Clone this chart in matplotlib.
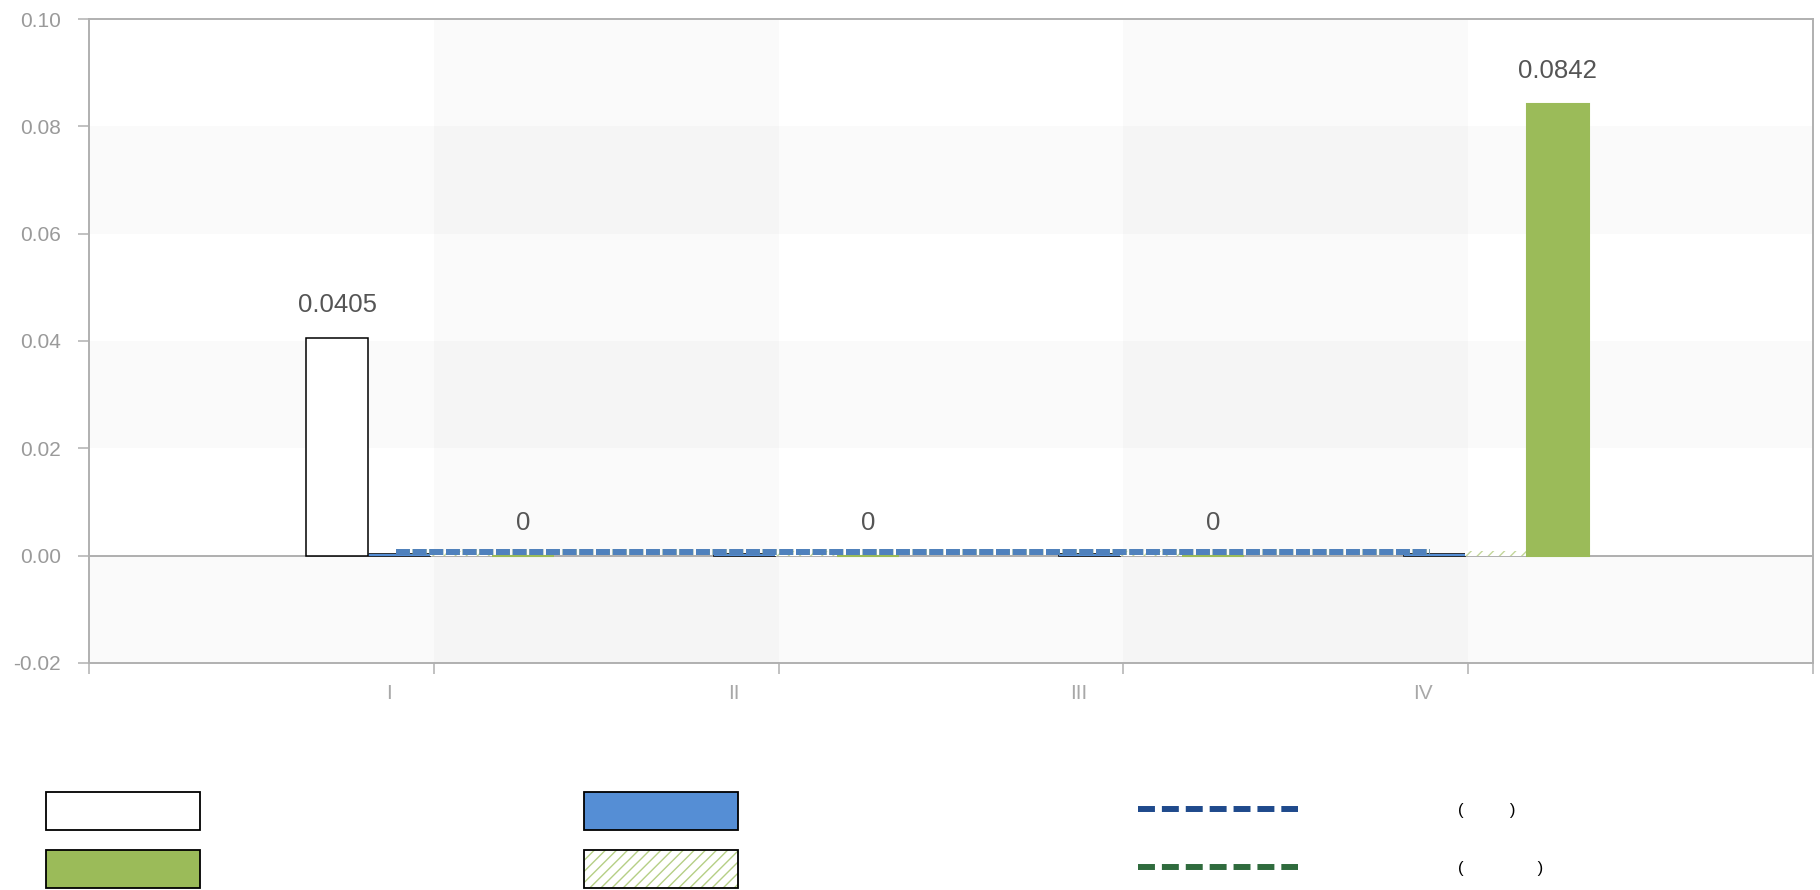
import matplotlib
matplotlib.use("Agg")
import matplotlib.pyplot as plt
import numpy as np
from matplotlib.patches import Patch
from matplotlib.lines import Line2D

plt.rcParams['font.family'] = ['Liberation Sans', 'DejaVu Sans']
plt.rcParams['lines.scale_dashes'] = False
plt.rcParams['hatch.linewidth'] = 1.0

categories = ['I', 'II', 'III', 'IV']
white_vals = [0.0405, 0, 0, 0]
blue_vals = [0.0005, 0.0005, 0.0005, 0.0005]
hatch_vals = [0.0008, 0.0008, 0.0008, 0.0008]
green_vals = [0, 0, 0, 0.0842]
line_blue = [0.00075, 0.00075, 0.00075, 0.00075]
line_green = [0.00075, 0.00075, 0.00075, 0.00075]
line_labels = ['(          )', '(                )']

W, H = 1820, 890
fig = plt.figure(figsize=(W / 100, H / 100), dpi=100)
ax = fig.add_axes([89 / W, 1 - 663 / H, (1813 - 89) / W, (663 - 19) / H])

# alternating shading, rows and columns
for y0 in (-0.02, 0.02, 0.06):
    ax.axhspan(y0, y0 + 0.02, color='k', alpha=0.02, lw=0, zorder=0)
for x0 in (1, 3):
    ax.axvspan(x0, x0 + 1, color='k', alpha=0.02, lw=0, zorder=0)
ax.axhline(0, color='#9a9a9a', lw=1.1, zorder=1.5)

centers = np.arange(len(categories)) + 1.0
bw = 0.18
b_white = ax.bar(centers - 0.28, white_vals, bw, color='white', edgecolor='black',
                 lw=[1.1 if v else 0 for v in white_vals], zorder=2)
b_blue = ax.bar(centers - 0.10, blue_vals, bw, color='#558ed5', edgecolor='#1a1a1a', lw=0.6, zorder=2)
b_hatch = ax.bar(centers + 0.08, hatch_vals, bw, color='white', edgecolor='#c3d69b', hatch='///', lw=0, zorder=2)
b_green = ax.bar(centers + 0.26, green_vals, bw, color='#9bbb59', edgecolor='#9bbb59', lw=1.5, zorder=2)

ax.bar_label(b_white, labels=[f"{v:g}" if v else "" for v in white_vals],
             padding=15, fontsize=18.5, color='#555555')
ax.bar_label(b_green, labels=[f"{v:g}" for v in green_vals],
             padding=15, fontsize=18.5, color='#555555')

x_line = centers - 0.11
ax.plot(x_line, line_green, color='#9bbb59', lw=4.3, dashes=(10, 2), dash_capstyle='butt', zorder=3)
ax.plot(x_line, line_blue, color='#4f81bd', lw=4.3, dashes=(10, 2), dash_capstyle='butt', zorder=3)

ax.set_xlim(0, 5)
ax.set_ylim(-0.02, 0.10)
yt = np.arange(-0.02, 0.1001, 0.02)
ax.set_yticks(yt, [f"{v:.2f}" for v in yt])
ax.set_xticks(range(6), [''] * 6)
ax.set_xticks(centers - 0.13, categories, minor=True)

for s in ax.spines.values():
    s.set_color('#b0b0b0')
    s.set_linewidth(1.4)
ax.tick_params(axis='y', length=8, width=1.1, color='#b0b0b0', pad=12,
               labelsize=15, labelcolor='#9a9a9a')
ax.tick_params(axis='x', which='major', length=8, width=1.1, color='#b0b0b0')
ax.tick_params(axis='x', which='minor', length=0, pad=15,
               labelsize=15, labelcolor='#a8a8a8')

# legend, three columns
fs = 12
fpx = fs * 100 / 72
box_kw = dict(loc='upper left', frameon=False, fontsize=fs, borderpad=0, borderaxespad=0,
              handlelength=154 / fpx, handleheight=3.13, labelspacing=20 / fpx,
              handletextpad=0.5)
h_white = Patch(facecolor='white', edgecolor='black', lw=1.3)
h_green = Patch(facecolor='#9bbb59', edgecolor='black', lw=1.3)
h_blue = Patch(facecolor='#558ed5', edgecolor='black', lw=1.3)
h_hatch = (Patch(facecolor='white', edgecolor='#b5cf85', hatch='///', lw=0),
           Patch(facecolor='none', edgecolor='black', lw=1.3))
fig.legend([h_white, h_green], ['', ''], bbox_to_anchor=(46 / W, 1 - 792 / H), **box_kw)
fig.legend([h_blue, h_hatch], ['', ''], bbox_to_anchor=(584 / W, 1 - 792 / H), **box_kw)

h_lb = Line2D([], [], color='#1f4a8c', lw=4.3, dashes=(12.2, 5.0), dash_capstyle='butt')
h_lg = Line2D([], [], color='#2f6b3d', lw=4.3, dashes=(12.2, 5.0), dash_capstyle='butt')
line_kw = dict(box_kw)
line_kw.update(handlelength=160 / fpx, handletextpad=160 / fpx,
               handleheight=0.7, labelspacing=43 / fpx)
fig.legend([h_lb, h_lg], line_labels, bbox_to_anchor=(1138 / W, 1 - 803 / H), **line_kw)

fig.savefig('out.png', dpi=100)
